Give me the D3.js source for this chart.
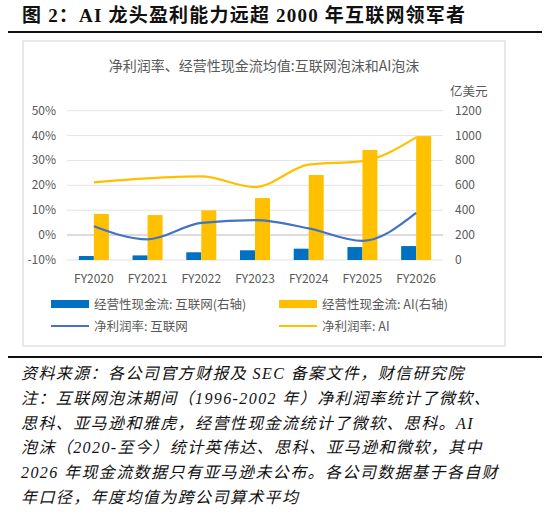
<!DOCTYPE html>
<html><head><meta charset="utf-8">
<script src="https://cdn.jsdelivr.net/npm/d3@7"></script>
<style>body{margin:0;background:#fff;}</style>
</head><body>
<script>
var years = ["FY2020","FY2021","FY2022","FY2023","FY2024","FY2025","FY2026"];
var cashNet = [32, 37, 62, 78, 91, 104, 112];
var cashAI = [370, 361, 399, 498, 683, 884, 996];
var marginNet = [3.6, -1.7, 4.9, 6.0, 2.7, -2.3, 8.9];
var marginAI = [21.2, 22.8, 23.6, 19.3, 28.3, 29.7, 39.3];
var leftTicks = [-10, 0, 10, 20, 30, 40, 50];
var rightTicks = [0, 200, 400, 600, 800, 1000, 1200];
var notes = [
  "资料来源：各公司官方财报及 SEC 备案文件，财信研究院",
  "注：互联网泡沫期间（1996-2002  年）净利润率统计了微软、",
  "思科、亚马逊和雅虎，经营性现金流统计了微软、思科。AI",
  "泡沫（2020-至今）统计英伟达、思科、亚马逊和微软，其中",
  "2026 年现金流数据只有亚马逊未公布。各公司数据基于各自财",
  "年口径，年度均值为跨公司算术平均"
];

var W = 550, H = 514;
var svg = d3.select("body").append("svg").attr("width", W).attr("height", H)
  .style("font-family", "'Noto Sans CJK SC', sans-serif");

var serif = "'Liberation Serif','Noto Sans CJK SC',serif";
svg.append("text").attr("x", 22).attr("y", 22).attr("font-size", 19).attr("font-weight", "bold")
  .attr("font-family", serif).attr("fill", "#111").attr("letter-spacing", 1.2)
  .text("图 2：AI 龙头盈利能力远超 2000 年互联网领军者");
svg.append("line").attr("x1", 8).attr("x2", 542).attr("y1", 32).attr("y2", 32).attr("stroke", "#111").attr("stroke-width", 2);

svg.append("rect").attr("x", 23).attr("y", 41).attr("width", 482).attr("height", 305)
  .attr("fill", "#fff").attr("stroke", "#d9d9d9").attr("stroke-width", 1.2);
svg.append("text").attr("x", 264).attr("y", 71).attr("text-anchor", "middle").attr("font-size", 14)
  .attr("fill", "#595959").text("净利润率、经营性现金流均值:互联网泡沫和AI泡沫");

var x = d3.scaleBand().domain(years).range([67, 443]);
var yL = d3.scaleLinear().domain([-10, 50]).range([260, 110.7]);
var yR = d3.scaleLinear().domain([0, 1200]).range([260, 110.7]);
var g = svg.append("g");

leftTicks.forEach(function (t) {
  g.append("line").attr("x1", 67).attr("x2", 443).attr("y1", yL(t)).attr("y2", yL(t))
    .attr("stroke", t === 0 ? "#d0d0d0" : "#e3e3e3").attr("stroke-width", t === 0 ? 1.5 : 1);
  g.append("text").attr("x", 56).attr("y", yL(t) + 4).attr("text-anchor", "end").attr("font-size", 12)
    .attr("fill", "#595959").text(t + "%");
});
rightTicks.forEach(function (t) {
  g.append("text").attr("x", 455).attr("y", yR(t) + 4).attr("font-size", 12)
    .attr("fill", "#595959").text(t);
});
g.append("text").attr("x", 450).attr("y", 96).attr("font-size", 12.5).attr("fill", "#595959").text("亿美元");

var bw = 15;
years.forEach(function (y, i) {
  var c = x(y) + x.bandwidth() / 2;
  g.append("rect").attr("x", c - bw).attr("y", yR(cashNet[i])).attr("width", bw)
    .attr("height", yR(0) - yR(cashNet[i])).attr("fill", "#0070c0");
  g.append("rect").attr("x", c).attr("y", yR(cashAI[i])).attr("width", bw)
    .attr("height", yR(0) - yR(cashAI[i])).attr("fill", "#ffc000");
  g.append("text").attr("x", c).attr("y", 283).attr("text-anchor", "middle").attr("font-size", 12)
    .attr("fill", "#595959").text(y);
});

var line = function (vals) {
  return d3.line().curve(d3.curveMonotoneX)
    .x(function (d, i) { return x(years[i]) + x.bandwidth() / 2; })
    .y(function (d) { return yL(d); })(vals);
};
g.append("path").attr("d", line(marginAI)).attr("fill", "none").attr("stroke", "#ffc000").attr("stroke-width", 2.2);
g.append("path").attr("d", line(marginNet)).attr("fill", "none").attr("stroke", "#4472c4").attr("stroke-width", 2.2);

var legend = [
  {x: 51, y: 304, t: "经营性现金流: 互联网(右轴)", c: "#0070c0", bar: true},
  {x: 279, y: 304, t: "经营性现金流: AI(右轴)", c: "#ffc000", bar: true},
  {x: 51, y: 326, t: "净利润率: 互联网", c: "#4472c4", bar: false},
  {x: 279, y: 326, t: "净利润率: AI", c: "#ffc000", bar: false}
];
legend.forEach(function (l) {
  if (l.bar) svg.append("rect").attr("x", l.x).attr("y", l.y - 4).attr("width", 38).attr("height", 8).attr("fill", l.c);
  else svg.append("line").attr("x1", l.x).attr("x2", l.x + 38).attr("y1", l.y).attr("y2", l.y).attr("stroke", l.c).attr("stroke-width", 2.2);
  svg.append("text").attr("x", l.x + 43).attr("y", l.y + 5).attr("font-size", 12.5).attr("fill", "#595959").text(l.t);
});

svg.append("line").attr("x1", 8).attr("x2", 542).attr("y1", 357).attr("y2", 357).attr("stroke", "#111").attr("stroke-width", 2);
notes.forEach(function (n, i) {
  svg.append("text").attr("x", 21).attr("y", 379 + i * 24.8).attr("font-size", 16)
    .attr("font-family", serif).attr("font-style", "italic").attr("fill", "#111")
    .attr("letter-spacing", 1.4).text(n);
});
</script>
</body></html>
